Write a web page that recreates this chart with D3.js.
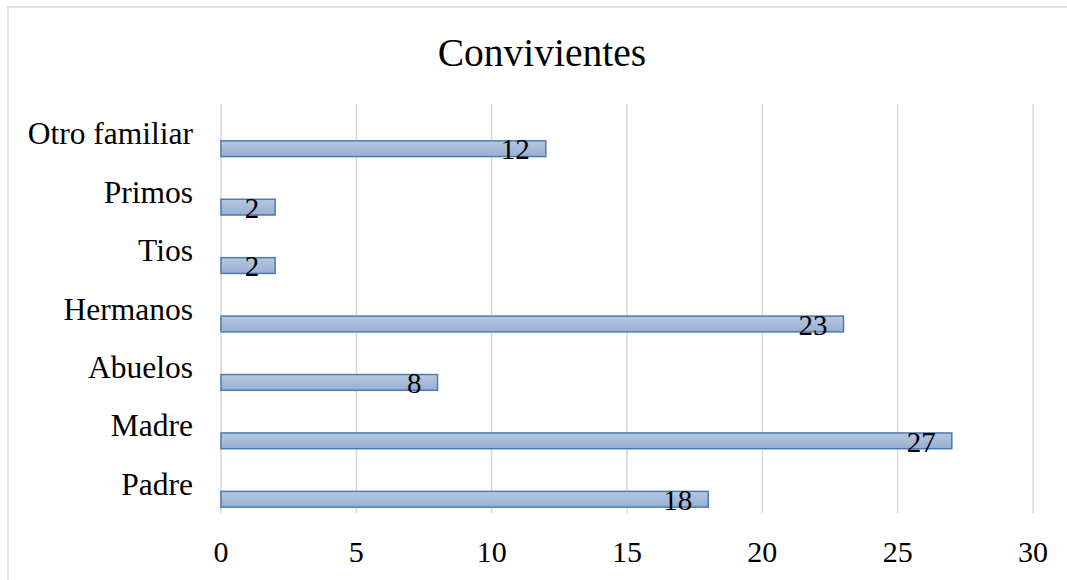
<!DOCTYPE html>
<html>
<head>
<meta charset="utf-8">
<script src="https://cdn.jsdelivr.net/npm/d3@7"></script>
<style>
  html, body { margin: 0; background: #fff; overflow: hidden; }
  svg { display: block; }
</style>
</head>
<body>
<div id="chart"></div>
<script>
// chart data
var categories = ["Otro familiar", "Primos", "Tios", "Hermanos", "Abuelos", "Madre", "Padre"];
var values = [12, 2, 2, 23, 8, 27, 18];
var xTicks = [0, 5, 10, 15, 20, 25, 30];
var title = "Convivientes";

(function drawChart() {
	var W = 1067, H = 580;
	var plot = {left: 221, right: 1033, top: 104, bottom: 513};
	var serif = "'Liberation Serif', 'DejaVu Serif', serif";

	var svg = d3.select("#chart").append("svg")
		.attr("width", W)
		.attr("height", H)
		.attr("font-family", serif);

	// white background so nothing shows through at the edges
	svg.append("rect")
		.attr("width", W).attr("height", H)
		.attr("fill", "#fff");

	// bar gradient
	var grad = svg.append("defs").append("linearGradient")
		.attr("id", "barGrad")
		.attr("x1", 0).attr("y1", 0).attr("x2", 0).attr("y2", 1);
	grad.append("stop").attr("offset", "0%").attr("stop-color", "#b7c7e0");
	grad.append("stop").attr("offset", "100%").attr("stop-color", "#97afd2");

	// outer border: only top and left edges are inside the picture
	svg.append("path")
		.attr("d", "M8," + H + "V7H" + W)
		.attr("fill", "none")
		.attr("stroke", "#d9d9d9")
		.attr("stroke-width", 1.5);

	var x = d3.scaleLinear().domain([0, 30]).range([plot.left, plot.right]);
	var y = d3.scaleBand().domain(categories).range([plot.top, plot.bottom]);

	// vertical gridlines
	svg.append("g").selectAll("line")
		.data(xTicks)
		.enter().append("line")
		.attr("x1", function(d) { return x(d); })
		.attr("x2", function(d) { return x(d); })
		.attr("y1", plot.top)
		.attr("y2", plot.bottom)
		.attr("stroke", "#d9d9d9")
		.attr("stroke-width", 1.5);

	// x tick labels
	svg.append("g").selectAll("text")
		.data(xTicks)
		.enter().append("text")
		.attr("x", function(d) { return x(d); })
		.attr("y", 562)
		.attr("text-anchor", "middle")
		.style("font-size", "30px")
		.text(function(d) { return d; });

	// category labels (centered on band)
	svg.append("g").selectAll("text")
		.data(categories)
		.enter().append("text")
		.attr("x", 193)
		.attr("y", function(d) { return y(d) + y.bandwidth() / 2; })
		.attr("dy", "0.35em")
		.attr("text-anchor", "end")
		.style("font-size", "31.5px")
		.text(function(d) { return d; });

	// bars sit in the lower part of each band
	var bw = y.bandwidth();
	var barTop = bw * 0.63, barH = bw * 0.27;

	svg.append("g").selectAll("rect")
		.data(values)
		.enter().append("rect")
		.attr("x", x(0))
		.attr("y", function(d, i) { return y(categories[i]) + barTop; })
		.attr("width", function(d) { return x(d) - x(0); })
		.attr("height", barH)
		.attr("fill", "url(#barGrad)")
		.attr("stroke", "#4a7bb1")
		.attr("stroke-width", 1.5);

	// data labels, inside end
	svg.append("g").selectAll("text")
		.data(values)
		.enter().append("text")
		.attr("x", function(d) { return x(d) - 16; })
		.attr("y", function(d, i) { return y(categories[i]) + barTop + barH / 2; })
		.attr("dy", "0.37em")
		.attr("text-anchor", "end")
		.style("font-size", "29px")
		.text(function(d) { return d; });

	// title
	svg.append("text")
		.attr("x", 542)
		.attr("y", 66)
		.attr("text-anchor", "middle")
		.style("font-size", "39.5px")
		.text(title);
})();
</script>
</body>
</html>
